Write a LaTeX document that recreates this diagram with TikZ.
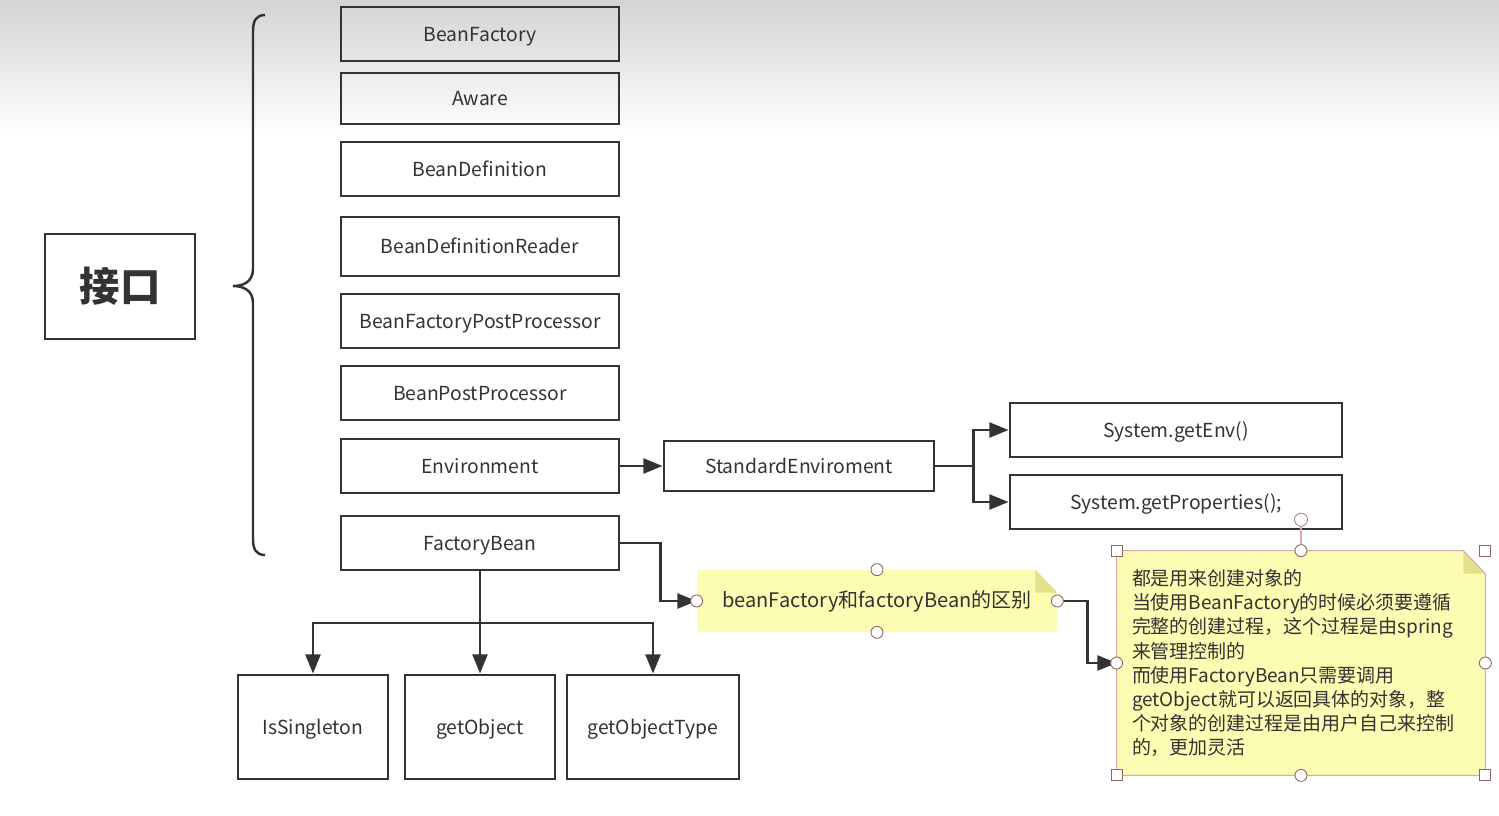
\documentclass[tikz,border=0pt]{standalone}
\usepackage{fontspec}
\setmainfont{Noto Sans CJK SC}
\usetikzlibrary{arrows.meta,positioning,calc}
\definecolor{linegray}{HTML}{333333}
\definecolor{noteyellow}{HTML}{FCFCB2}
\definecolor{foldyellow}{HTML}{E2E28C}
\definecolor{handlecol}{HTML}{8E6464}
\definecolor{selcol}{HTML}{D9A9A9}

\begin{document}
\begin{tikzpicture}[
    box/.style={draw=linegray, line width=1.6pt, minimum width=5.56cm, minimum height=1.08cm, font=\fontsize{11}{13}\selectfont, text=linegray, text height=1.0em, text depth=0.16em},
    iface/.style={draw=linegray, line width=1.6pt, minimum width=3.0cm, minimum height=2.1cm, font=\fontsize{23}{26}\selectfont\bfseries, text=linegray},
    note/.style={fill=noteyellow, inner sep=0pt, text=black!80},
    arr/.style={draw=linegray, line width=1.6pt, -{Triangle[length=11pt,width=8.5pt]}},
    wire/.style={draw=linegray, line width=1.6pt},
    hdl/.style={draw=handlecol, fill=white, line width=0.5pt}
]
    % page and top shadow
    \fill[white] (0,0) rectangle (29.98,-16.30);
    \useasboundingbox (0,0) rectangle (29.98,-16.30);
    \shade[top color=black!17, bottom color=white] (0,0) rectangle (29.98,-2.7);

    \node[iface] (iface) at (2.40,-5.73) {接口};
    \draw[linegray, line width=1.4pt] (5.30,-0.30) .. controls (5.12,-0.30) and (5.06,-0.42) .. (5.06,-0.62)
        -- (5.06,-5.38) .. controls (5.06,-5.64) and (4.86,-5.72) .. (4.66,-5.72)
        .. controls (4.86,-5.72) and (5.06,-5.80) .. (5.06,-6.06)
        -- (5.06,-10.78) .. controls (5.06,-10.98) and (5.12,-11.10) .. (5.30,-11.10);

    \node[box] (bf) at (9.60,-0.68) {BeanFactory};
    \node[box, minimum height=1.02cm] (aware) at (9.60,-1.97) {Aware};
    \node[box] (bdef) at (9.60,-3.38) {BeanDefinition};
    \node[box, minimum height=1.18cm] (bdr) at (9.60,-4.93) {BeanDefinitionReader};
    \node[box] (bfpp) at (9.60,-6.42) {BeanFactoryPostProcessor};
    \node[box] (bpp) at (9.60,-7.86) {BeanPostProcessor};
    \node[box] (env) at (9.60,-9.32) {Environment};
    \node[box] (fb) at (9.60,-10.86) {FactoryBean};

    \node[box, minimum width=5.40cm, minimum height=1.0cm] (stdenv) at (15.98,-9.32) {StandardEnviroment};
    \node[box, minimum width=6.64cm] (getenv) at (23.52,-8.60) {System.getEnv()};
    \node[box, minimum width=6.64cm] (getprops) at (23.52,-10.04) {System.getProperties();};

    \node[box, minimum width=3.0cm, minimum height=2.08cm] (single) at (6.26,-14.54) {IsSingleton};
    \node[box, minimum width=3.0cm, minimum height=2.08cm] (getobj) at (9.60,-14.54) {getObject};
    \node[box, minimum width=3.44cm, minimum height=2.08cm] (gettype) at (13.06,-14.54) {getObjectType};

    \node[note, minimum width=7.2cm, minimum height=1.24cm, text height=0.94em, text depth=0.16em, font=\fontsize{11.4}{13}\selectfont] (note1) at (17.54,-12.02) {beanFactory和factoryBean的区别};
    \node[note, minimum width=7.36cm, minimum height=4.48cm, inner xsep=0.3cm, text width=6.76cm, align=left, font=\fontsize{10.8}{13.66}\selectfont] (note2) at (26.02,-13.26) {都是用来创建对象的\\当使用BeanFactory的时候必须要遵循\\完整的创建过程，这个过程是由spring\\来管理控制的\\而使用FactoryBean只需要调用\\getObject就可以返回具体的对象，整\\个对象的创建过程是由用户自己来控制\\的，更加灵活};

    % dog-ear corners
    \foreach \n in {note1,note2} {
        \fill[white] ($(\n.north east)+(-0.44,0)$) -- (\n.north east) -- ($(\n.north east)+(0,-0.46)$) -- cycle;
        \fill[foldyellow] ($(\n.north east)+(-0.44,0)$) -- ($(\n.north east)+(0,-0.46)$) -- ($(\n.north east)+(-0.44,-0.46)$) -- cycle;
    }
    \draw[selcol, line width=0.6pt] (note2.north west) -- ($(note2.north east)+(-0.44,0)$) -- ($(note2.north east)+(0,-0.46)$) -- (note2.south east) -- (note2.south west) -- cycle;

    \draw[arr] (env) -- (stdenv);
    \draw[arr] (stdenv.east) -- ++(0.76,0) |- (getenv.west);
    \draw[arr] (stdenv.east) -- ++(0.76,0) |- (getprops.west);

    \coordinate (split) at (9.60,-12.46);
    \draw[wire] (fb) -- (split);
    \draw[arr] (split) -| (single);
    \draw[arr] (split) -- (getobj);
    \draw[arr] (split) -| (gettype);

    \draw[arr] (fb.east) -- ++(0.80,0) |- (note1.west);
    \draw[arr] (note1.east) -- ++(0.60,0) |- (note2.west);

    % selection handles
    \foreach \p in {note1.north,note1.south,note1.west,note1.east} \draw[hdl] (\p) circle (0.12);
    \draw[selcol, line width=0.8pt] (note2.north) -- ($(note2.north)+(0,0.50)$);
    \draw[hdl, draw=selcol!80!black] ($(note2.north)+(0,0.62)$) circle (0.13);
    \foreach \p in {note2.north,note2.south,note2.west,note2.east} \draw[hdl] (\p) circle (0.12);
    \foreach \p in {note2.north west,note2.north east,note2.south west,note2.south east}
        \draw[hdl] ($(\p)+(-0.11,-0.11)$) rectangle ++(0.22,0.22);
\end{tikzpicture}
\end{document}
